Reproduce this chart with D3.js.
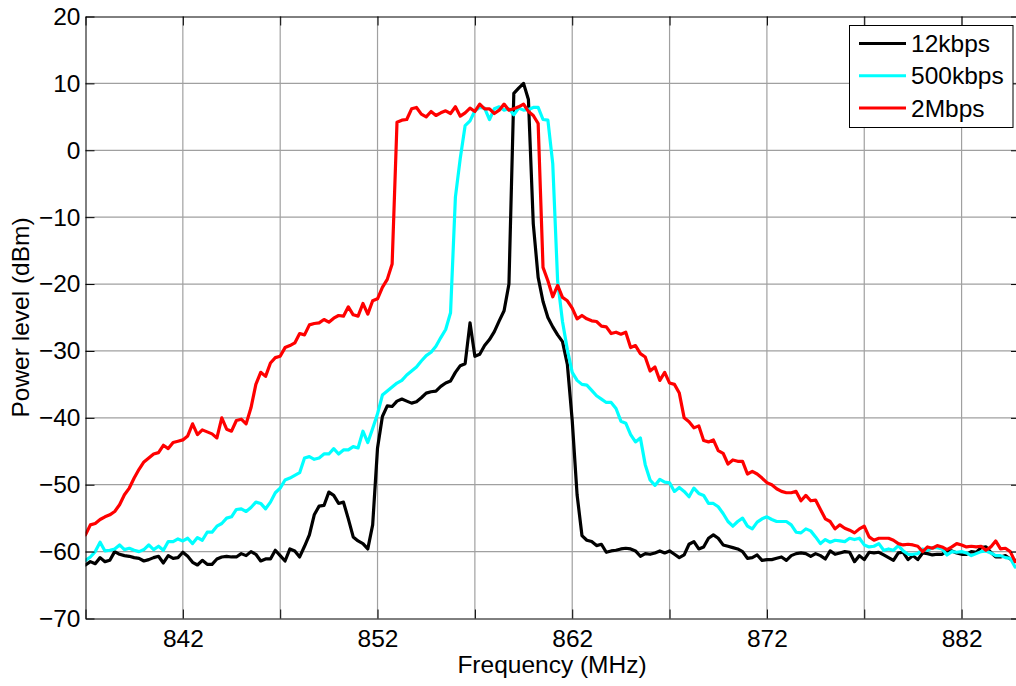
<!DOCTYPE html>
<html>
<head>
<meta charset="utf-8">
<script src="https://cdn.jsdelivr.net/npm/d3@7"></script>
<style>
  html, body { margin: 0; padding: 0; background: #ffffff; }
  svg { display: block; font-family: Arial, "Liberation Sans", Helvetica, sans-serif; }
</style>
</head>
<body>
<svg id="chart" width="1016" height="686"></svg>
<script>
// Spectrum sweep: one sample every 0.25 MHz starting at 837 MHz
const sweepStartMHz = 837;
const sweepStepMHz = 0.25;

const seriesNames = ["12kbps", "500kbps", "2Mbps"];
const seriesColors = ["#000000", "#00ffff", "#ff0000"];

// Measured power (dBm), four samples per MHz, one row per MHz (837 ... 884)
const power12kbps = [
  -62.0, -61.5, -61.8, -60.9,
  -61.5, -61.3, -60.0, -60.4,
  -60.6, -60.7, -60.9, -61.0,
  -61.4, -61.2, -60.9, -60.7,
  -61.7, -60.6, -61.0, -60.9,
  -60.1, -60.7, -61.6, -62.0,
  -61.3, -61.9, -61.9, -61.1,
  -60.8, -60.7, -60.8, -60.8,
  -60.3, -60.6, -60.0, -60.4,
  -61.4, -61.1, -61.1, -59.8,
  -60.6, -61.4, -59.6, -59.9,
  -60.8, -59.2, -57.5, -54.5,
  -53.2, -53.1, -51.1, -51.6,
  -52.8, -52.6, -55.1, -57.8,
  -58.4, -58.8, -59.6, -56.0,
  -44.5, -39.8, -38.2, -38.3,
  -37.5, -37.2, -37.5, -37.8,
  -37.6, -37.0, -36.3, -36.1,
  -36.0, -35.3, -34.8, -34.5,
  -33.2, -32.2, -31.9, -25.8,
  -30.8, -30.5, -29.2, -28.3,
  -27.1, -25.5, -24.0, -20.0,
    8.5,   9.3,  10.0,   7.6,
  -11.0, -19.0, -22.6, -25.0,
  -26.4, -27.6, -28.6, -32.0,
  -40.4, -51.5, -57.6, -58.3,
  -58.5, -59.1, -58.9, -60.1,
  -59.9, -59.8, -59.6, -59.5,
  -59.6, -59.9, -60.7, -60.3,
  -60.4, -60.2, -59.9, -60.2,
  -59.9, -60.4, -60.9, -60.5,
  -58.9, -58.5, -59.6, -59.3,
  -58.0, -57.5, -58.0, -59.0,
  -59.2, -59.4, -59.6, -60.0,
  -61.0, -60.9, -60.5, -61.3,
  -61.2, -61.2, -61.0, -60.8,
  -61.3, -60.6, -60.3, -60.2,
  -60.3, -60.7, -60.3, -60.6,
  -61.1, -59.9, -60.4, -60.2,
  -60.0, -60.1, -61.5, -60.6,
  -61.2, -60.1, -60.2, -60.1,
  -60.5, -60.9, -61.3, -60.2,
  -60.1, -61.2, -60.6, -61.2,
  -60.2, -60.3, -60.5, -60.4,
  -60.4, -59.9, -59.9, -60.2,
  -60.4, -60.4, -60.0, -60.1,
  -59.4, -59.3, -60.1, -60.8,
  -60.8, -60.6, -61.1, -61.3
];

const power500kbps = [
  -61.3, -60.8, -60.0, -58.6,
  -59.9, -59.8, -59.6, -59.0,
  -59.7, -59.5, -59.8, -60.0,
  -59.7, -59.0, -59.7, -59.2,
  -59.8, -58.5, -58.5, -58.1,
  -58.4, -58.0, -58.8, -57.9,
  -58.3, -57.1, -57.1, -56.2,
  -55.8, -55.0, -54.8, -53.7,
  -53.6, -54.0, -53.4, -52.6,
  -52.8, -53.6, -52.6, -51.2,
  -50.5, -49.3, -49.0, -48.6,
  -48.2, -46.0, -45.8, -46.2,
  -46.0, -45.4, -45.4, -44.6,
  -45.4, -44.8, -44.8, -44.3,
  -44.5, -42.0, -43.7, -41.6,
  -39.4, -36.6, -36.0, -35.4,
  -34.8, -34.4, -33.6, -33.0,
  -32.4, -31.5, -30.7, -30.2,
  -29.3, -28.0, -26.8, -24.3,
   -7.0,  -1.2,   3.7,   4.4,
    5.9,   6.4,   6.3,   4.6,
    6.2,   6.5,   6.0,   6.2,
    5.3,   6.3,   6.0,   6.1,
    6.4,   6.4,   4.6,   4.5,
   -2.0, -19.5, -25.6, -29.8,
  -33.2, -34.4, -35.0, -35.1,
  -35.9, -36.7, -37.2, -37.7,
  -37.7, -38.6, -40.5, -40.8,
  -42.5, -43.6, -43.0, -47.0,
  -49.3, -50.1, -49.2, -49.6,
  -49.7, -51.0, -50.4, -51.0,
  -51.8, -50.5, -51.3, -51.6,
  -52.8, -52.8, -53.3, -54.3,
  -55.5, -56.2, -55.5, -55.0,
  -56.2, -56.6, -55.6, -55.1,
  -54.8, -55.2, -55.5, -55.5,
  -55.5, -56.0, -57.1, -57.2,
  -56.6, -56.9, -57.8, -58.8,
  -58.2, -58.6, -58.3, -58.4,
  -58.5, -58.0, -58.2, -58.0,
  -59.0, -59.3, -59.2, -58.8,
  -59.8, -59.6, -59.8, -59.1,
  -59.9, -60.4, -60.4, -60.3,
  -59.6, -59.8, -59.4, -59.4,
  -59.6, -60.5, -60.0, -60.1,
  -60.0, -60.2, -60.6, -60.3,
  -60.0, -59.9, -60.2, -60.6,
  -60.6, -60.9, -61.0, -62.3
];

const power2Mbps = [
  -57.5, -56.0, -55.8, -55.2,
  -54.8, -54.5, -54.0, -53.0,
  -51.5, -50.5, -49.0, -47.7,
  -46.6, -46.0, -45.4, -45.2,
  -44.1, -44.6, -43.7, -43.5,
  -43.3, -42.7, -40.9, -42.5,
  -41.8, -42.1, -42.4, -43.0,
  -40.0, -41.7, -42.0, -40.4,
  -40.2, -40.9, -38.5, -35.0,
  -33.2, -33.8, -31.8, -31.0,
  -30.8, -29.5, -29.2, -28.8,
  -27.4, -27.6, -26.1, -25.9,
  -25.8, -25.3, -25.7, -25.1,
  -24.7, -24.8, -23.4, -24.6,
  -24.8, -22.9, -24.5, -22.5,
  -22.2, -20.5, -19.3, -17.0,
    4.2,   4.5,   4.6,   6.2,
    6.4,   5.4,   5.0,   5.8,
    5.2,   5.6,   5.9,   5.5,
    6.5,   5.1,   5.6,   6.3,
    5.8,   6.9,   6.2,   6.2,
    5.5,   6.0,   6.9,   6.0,
    6.2,   6.5,   6.9,   5.8,
    5.2,   4.0, -17.5, -19.5,
  -21.9, -20.2, -22.0, -22.5,
  -23.6, -25.2, -24.7, -25.2,
  -25.5, -25.6, -26.3, -26.4,
  -27.4, -27.2, -27.5, -27.2,
  -29.5, -29.2, -30.4, -30.9,
  -33.0, -32.4, -34.4, -33.2,
  -34.8, -35.0, -36.3, -40.0,
  -40.6, -41.5, -41.2, -43.4,
  -43.6, -43.3, -44.9, -45.3,
  -46.9, -46.3, -46.5, -46.5,
  -48.4, -48.0, -48.4, -49.0,
  -49.7, -50.0, -50.6, -51.0,
  -51.2, -51.2, -51.0, -52.4,
  -51.6, -52.4, -52.3, -53.7,
  -55.1, -55.5, -56.6, -56.0,
  -56.5, -56.8, -57.2, -56.6,
  -56.2, -57.8, -58.3, -58.0,
  -58.0, -58.0, -58.3, -58.8,
  -59.0, -58.9, -59.0, -59.2,
  -60.0, -59.3, -59.5, -59.1,
  -59.3, -59.7, -59.3, -58.8,
  -59.0, -59.3, -59.2, -59.3,
  -59.2, -59.8, -59.3, -58.4,
  -59.6, -59.5, -60.0, -61.5
];

const xTickValues = [837, 842, 847, 852, 857, 862, 867, 872, 877, 882];
const xTickLabels = [842, 852, 862, 872, 882];
const yTickValues = [-70, -60, -50, -40, -30, -20, -10, 0, 10, 20];

const xLabel = "Frequency (MHz)";
const yLabel = "Power level (dBm)";

// ---- layout ----
const svg = d3.select("#chart");
const W = 1016, H = 686;
const plot = { left: 85.5, right: 1020, top: 16.5, bottom: 618.5 };
const FONT = 24.5;

svg.append("rect").attr("width", W).attr("height", H).attr("fill", "#ffffff");

const x = d3.scaleLinear().domain([837, 885]).range([plot.left, plot.right]);
const y = d3.scaleLinear().domain([-70, 20]).range([plot.bottom, plot.top]);

// ---- grid ----
const grid = svg.append("g").attr("stroke", "#a0a0a0").attr("stroke-width", 1.2);
grid.selectAll("line.v")
  .data(xTickValues.filter(v => v > 837))
  .join("line")
  .attr("x1", d => x(d)).attr("x2", d => x(d))
  .attr("y1", plot.top).attr("y2", plot.bottom);
grid.selectAll("line.h")
  .data(yTickValues.filter(v => v > -70 && v < 20))
  .join("line")
  .attr("x1", plot.left).attr("x2", plot.right)
  .attr("y1", d => y(d)).attr("y2", d => y(d));

// ---- series ----
svg.append("defs").append("clipPath").attr("id", "plotClip")
  .append("rect")
  .attr("x", plot.left).attr("y", plot.top)
  .attr("width", plot.right - plot.left).attr("height", plot.bottom - plot.top);

const seriesValues = [power12kbps, power500kbps, power2Mbps];
const line = d3.line()
  .x((d, i) => x(sweepStartMHz + i * sweepStepMHz))
  .y(d => y(d));

const lines = svg.append("g").attr("clip-path", "url(#plotClip)");
seriesValues.forEach((vals, k) => {
  lines.append("path")
    .datum(vals)
    .attr("d", line)
    .attr("fill", "none")
    .attr("stroke", seriesColors[k])
    .attr("stroke-width", 3.2)
    .attr("stroke-linejoin", "round")
    .attr("stroke-linecap", "round");
});

// ---- axes ----
function styleAxis(g) {
  g.attr("font-family", null).attr("font-size", null);
  g.select(".domain").attr("stroke", "#000").attr("stroke-width", 1);
  g.selectAll(".tick line").attr("stroke", "#000").attr("stroke-width", 1);
  g.selectAll("text").attr("fill", "#000").style("font-size", FONT + "px");
}

svg.append("g")
  .attr("transform", `translate(0,${plot.bottom})`)
  .call(d3.axisBottom(x).tickValues(xTickValues)
    .tickSizeInner(-9).tickSizeOuter(0).tickPadding(11)
    .tickFormat(d => xTickLabels.includes(d) ? String(d) : ""))
  .call(styleAxis);

svg.append("g")
  .attr("transform", `translate(0,${plot.top})`)
  .call(d3.axisTop(x).tickValues(xTickValues)
    .tickSizeInner(-9).tickSizeOuter(0).tickFormat(""))
  .call(styleAxis);

svg.append("g")
  .attr("transform", `translate(${plot.left},0)`)
  .call(d3.axisLeft(y).tickValues(yTickValues)
    .tickSizeInner(-9).tickSizeOuter(0).tickPadding(5)
    .tickFormat(d3.format("d")))
  .call(styleAxis);

svg.append("g")
  .attr("transform", `translate(${plot.right},0)`)
  .call(d3.axisRight(y).tickValues(yTickValues)
    .tickSizeInner(-9).tickSizeOuter(0).tickFormat(""))
  .call(styleAxis);

// ---- axis titles ----
svg.append("text")
  .attr("x", 552).attr("y", 673)
  .attr("text-anchor", "middle")
  .style("font-size", FONT + "px")
  .text(xLabel);

svg.append("text")
  .attr("transform", `translate(29,${(plot.top + plot.bottom) / 2}) rotate(-90)`)
  .attr("text-anchor", "middle")
  .style("font-size", FONT + "px")
  .text(yLabel);

// ---- legend ----
const legend = svg.append("g");
legend.append("rect")
  .attr("x", 849.5).attr("y", 25.5)
  .attr("width", 163.5).attr("height", 102)
  .attr("fill", "#ffffff").attr("stroke", "#000").attr("stroke-width", 1);

const legendRowY = d3.scalePoint().domain(seriesNames).range([43.5, 108]);
seriesNames.forEach((name, k) => {
  const ly = legendRowY(name);
  legend.append("line")
    .attr("x1", 859).attr("x2", 906)
    .attr("y1", ly).attr("y2", ly)
    .attr("stroke", seriesColors[k]).attr("stroke-width", 3.2);
  legend.append("text")
    .attr("x", 911).attr("y", ly + 8.5)
    .style("font-size", FONT + "px")
    .text(name);
});
</script>
</body>
</html>
